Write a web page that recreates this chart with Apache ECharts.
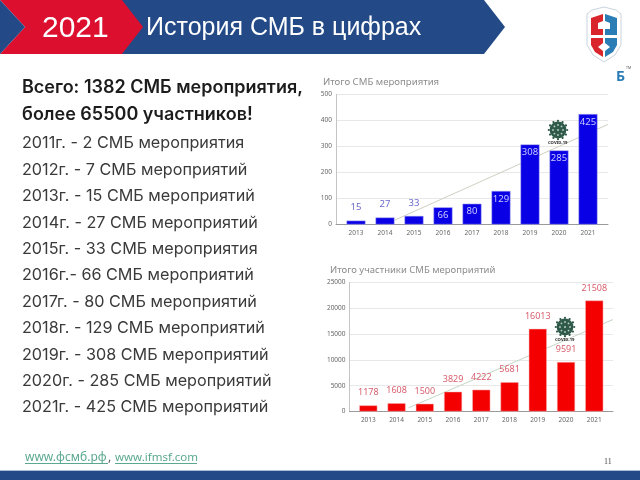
<!DOCTYPE html>
<html>
<head>
<meta charset="utf-8">
<title>История СМБ в цифрах</title>
<script src="https://cdn.jsdelivr.net/npm/echarts@6/dist/echarts.min.js"></script>
<style>
html, body { margin: 0; padding: 0; background: #fff; }
#chart { width: 640px; height: 480px; }
</style>
</head>
<body>
<div id="chart"></div>
<script>
var years = ['2013', '2014', '2015', '2016', '2017', '2018', '2019', '2020', '2021'];
var eventsValues = [15, 27, 33, 66, 80, 129, 308, 285, 425];
var peopleValues = [1178, 1608, 1500, 3829, 4222, 5681, 16013, 9591, 21508];

// trend lines, x is the position in units of a category
var eventsTrendX = [1.34, 8.69];
var eventsTrendY = [17, 385];
var peopleTrendX = [1.42, 8.66];
var peopleTrendY = [710, 17830];

var headLines = ['Всего: 1382 СМБ мероприятия,', 'более 65500 участников!'];
var yearLines = [
    '2011г. - 2 СМБ мероприятия',
    '2012г. - 7 СМБ мероприятий',
    '2013г. - 15 СМБ мероприятий',
    '2014г. - 27 СМБ мероприятий',
    '2015г. - 33 СМБ мероприятия',
    '2016г.- 66 СМБ мероприятий',
    '2017г. - 80 СМБ мероприятий',
    '2018г. - 129 СМБ мероприятий',
    '2019г. - 308 СМБ мероприятий',
    '2020г. - 285 СМБ мероприятий',
    '2021г. - 425 СМБ мероприятий'
];

var NAVY = '#234a87';
var RED = '#dc0f2f';
var FONT = '"Noto Sans", "Open Sans", sans-serif';
var BODY_FONT = 'Inter, "Noto Sans", sans-serif';

function pairs(xs, ys) {
    var out = [];
    for (var i = 0; i < xs.length; i++) {
        out.push([xs[i], ys[i]]);
    }
    return out;
}

function poly(points, color, stroke) {
    var style = { fill: color };
    if (stroke) {
        style.stroke = stroke;
        style.lineWidth = 1;
    }
    return { type: 'polygon', shape: { points: points }, style: style, silent: true };
}

function txt(x, y, text, size, color, weight, font) {
    return {
        type: 'text', x: x, y: y, silent: true, z: 5,
        style: {
            text: text, fill: color,
            font: (weight || 'normal') + ' ' + size + 'px ' + (font || FONT),
            textVerticalAlign: 'middle'
        }
    };
}

function virus(cx, cy) {
    var parts = [];
    for (var i = 0; i < 12; i++) {
        var a = i * Math.PI / 6;
        parts.push({
            type: 'circle', silent: true, z: 6,
            shape: { cx: cx + Math.cos(a) * 9.2, cy: cy + Math.sin(a) * 9.2, r: 1.1 },
            style: { fill: '#2f5a4a' }
        });
    }
    parts.push({ type: 'circle', silent: true, z: 6, shape: { cx: cx, cy: cy, r: 8.4 }, style: { fill: '#2f5a4a' } });
    for (var j = 0; j < 8; j++) {
        var b = j * Math.PI / 4;
        parts.push({
            type: 'circle', silent: true, z: 7,
            shape: { cx: cx + Math.cos(b) * 5, cy: cy + Math.sin(b) * 5, r: 0.9 },
            style: { fill: '#b9cfc4' }
        });
    }
    parts.push({ type: 'circle', silent: true, z: 7, shape: { cx: cx, cy: cy, r: 1 }, style: { fill: '#b9cfc4' } });
    parts.push(txt(cx - 10, cy + 13, 'COVID-19', 4.2, '#222', 'bold'));
    return parts;
}

function slideParts() {
    var g = [];
    g.push(poly([[100, 0], [484, 0], [505, 27], [484, 54], [100, 54]], NAVY));
    g.push(poly([[0, 0], [122, 0], [143, 27], [122, 54], [0, 54], [25, 27]], RED));
    g.push(poly([[0, 0], [25, 27], [0, 54]], NAVY));
    g.push({ type: 'rect', silent: true, shape: { x: 0, y: 471, width: 640, height: 9 }, style: { fill: NAVY } });
    g.push({ type: 'rect', silent: true, shape: { x: 0, y: 470, width: 640, height: 1 }, style: { fill: '#a9bcd6' } });

    g.push(txt(42, 29, '2021', 30, '#fff', 'normal', '"Liberation Sans", sans-serif'));
    g.push(txt(146, 28, 'История СМБ в цифрах', 25, '#fff', 'normal', '"Liberation Sans", sans-serif'));

    // logo
    g.push(poly([[592, 10], [604, 7], [616, 10], [621, 14], [621, 45], [615, 55], [604, 62], [593, 55], [587, 45], [587, 14]], '#fff', '#c9d4dd'));
    g.push(poly([[591, 18], [603, 14], [603, 21], [598, 23], [598, 29], [603, 29], [603, 35], [591, 35]], '#d9262c'));
    g.push(poly([[591, 38], [603, 38], [603, 43], [598, 47], [603, 51], [603, 57], [595, 52], [591, 45]], '#d9262c'));
    g.push(poly([[617, 18], [605, 14], [605, 21], [610, 23], [610, 29], [605, 29], [605, 35], [617, 35]], '#2a7db5'));
    g.push(poly([[617, 38], [605, 38], [605, 43], [610, 47], [605, 51], [605, 57], [613, 52], [617, 45]], '#2a7db5'));
    g.push(txt(616, 77, 'Б', 14, '#2a7db5', 'bold'));
    g.push(txt(626, 68, 'TM', 3.5, '#555'));

    for (var i = 0; i < headLines.length; i++) {
        g.push(txt(22, 88 + i * 27, headLines[i], 18, '#1c1c1c', '600', BODY_FONT));
    }
    for (var k = 0; k < yearLines.length; k++) {
        g.push(txt(22, 143.5 + k * 26.4, yearLines[k], 16.2, '#3a3a3a', 'normal', BODY_FONT));
    }

    g.push(txt(25, 458, 'www.фсмб.рф', 12, '#5aa88f'));
    g.push(txt(108, 458, ',', 12, '#555'));
    g.push(txt(115, 458, 'www.ifmsf.com', 11.5, '#5aa88f'));
    g.push({ type: 'rect', silent: true, shape: { x: 25, y: 463, width: 83, height: 1 }, style: { fill: '#5aa88f' } });
    g.push({ type: 'rect', silent: true, shape: { x: 115, y: 463, width: 82, height: 1 }, style: { fill: '#5aa88f' } });
    g.push(txt(604, 462, '11', 8, '#444', 'normal', '"Liberation Serif", serif'));

    g = g.concat(virus(558, 130));
    g = g.concat(virus(565, 327));
    return g;
}

function barLabels(values, color, insideColor, insideFrom, size) {
    var out = [];
    for (var i = 0; i < values.length; i++) {
        var inside = values[i] >= insideFrom;
        out.push({
            value: values[i],
            label: {
                show: true,
                position: inside ? 'insideTop' : 'top',
                distance: inside ? 3 : 8,
                color: inside ? insideColor : color,
                fontSize: size,
                fontFamily: FONT
            }
        });
    }
    return out;
}

function backAxis(grid, minX, maxX) {
    return {
        type: 'value', gridIndex: grid, min: minX, max: maxX, show: true,
        axisLine: { show: true, onZero: false, lineStyle: { color: '#9a9a9a', width: 1 } },
        axisTick: { show: false }, axisLabel: { show: false }, splitLine: { show: false }
    };
}

function frontAxis(grid) {
    return {
        type: 'category', gridIndex: grid, data: years,
        axisLine: { show: false }, axisTick: { show: false },
        axisLabel: { color: '#666', fontSize: 6.5, margin: 5, fontFamily: FONT, interval: 0 }
    };
}

function valAxis(grid, max, interval) {
    return {
        type: 'value', gridIndex: grid, min: 0, max: max, interval: interval,
        axisLine: { show: true, onZero: false, lineStyle: { color: '#c4c4c4', width: 1 } },
        axisTick: { show: false },
        axisLabel: {
            color: '#666', fontSize: 6.5, margin: 4, fontFamily: FONT,
            formatter: function (v) { return String(v); }
        },
        splitLine: { lineStyle: { color: '#e8e8e8', width: 1 } }
    };
}

var chart = echarts.init(document.getElementById('chart'));
var option = {
    animation: false,
    backgroundColor: '#fff',
    title: [
        { text: 'Итого СМБ мероприятия', left: 318, top: 72, textStyle: { color: '#8c8c8c', fontSize: 9.6, fontWeight: 'normal', fontFamily: FONT } },
        { text: 'Итого участники СМБ мероприятий', left: 325, top: 260, textStyle: { color: '#8c8c8c', fontSize: 9.5, fontWeight: 'normal', fontFamily: FONT } }
    ],
    grid: [
        { left: 336, top: 94.5, width: 272, height: 130 },
        { left: 341.5, top: 94.5, width: 261, height: 130 },
        { left: 349.5, top: 282.5, width: 263.5, height: 129 },
        { left: 354.2, top: 282.5, width: 254.2, height: 129 }
    ],
    xAxis: [
        backAxis(0, -0.69, 8.69),
        frontAxis(1),
        backAxis(2, -0.67, 8.66),
        frontAxis(3)
    ],
    yAxis: [
        valAxis(0, 500, 100),
        { type: 'value', gridIndex: 1, min: 0, max: 500, show: false },
        valAxis(2, 25000, 5000),
        { type: 'value', gridIndex: 3, min: 0, max: 25000, show: false }
    ],
    series: [
        {
            name: 'Тренд мероприятия', type: 'line', xAxisIndex: 0, yAxisIndex: 0, z: 1,
            data: pairs(eventsTrendX, eventsTrendY), showSymbol: false,
            lineStyle: { color: '#cfcfc2', width: 1 }
        },
        {
            name: 'Итого СМБ мероприятия', type: 'bar', xAxisIndex: 1, yAxisIndex: 1, z: 2,
            data: barLabels(eventsValues, '#6a6acb', '#c9c9ff', 50, 9.5),
            barWidth: 19,
            itemStyle: { color: '#0a00e6', borderColor: '#b5b5ee', borderWidth: 0.5 }
        },
        {
            name: 'Тренд участники', type: 'line', xAxisIndex: 2, yAxisIndex: 2, z: 1,
            data: pairs(peopleTrendX, peopleTrendY), showSymbol: false,
            lineStyle: { color: '#c5d6c5', width: 1 }
        },
        {
            name: 'Итого участники СМБ мероприятий', type: 'bar', xAxisIndex: 3, yAxisIndex: 3, z: 2,
            data: barLabels(peopleValues, '#d9606f', '#d9606f', 1000000, 9),
            barWidth: 18,
            itemStyle: { color: '#f40000', borderColor: '#f5b5b5', borderWidth: 0.5 }
        }
    ],
    graphic: { elements: slideParts() }
};
chart.setOption(option, true);
</script>
</body>
</html>
